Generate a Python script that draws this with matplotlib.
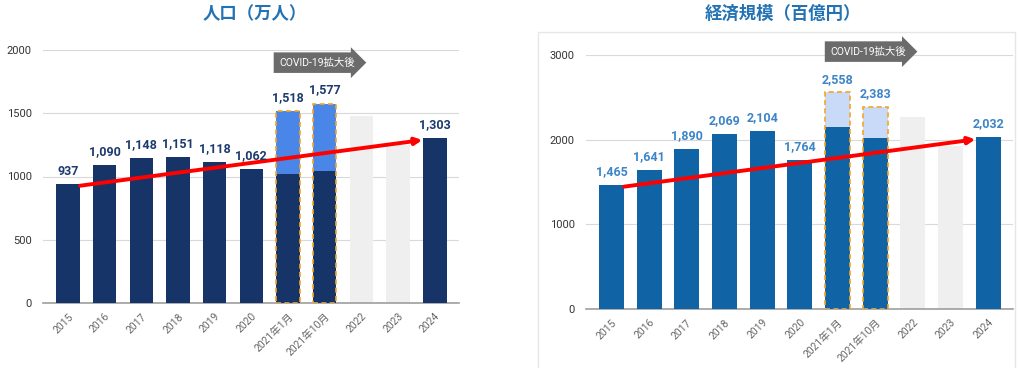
"""人口と経済規模の推移グラフ"""
import matplotlib
matplotlib.use('Agg')
import matplotlib.pyplot as plt
from matplotlib.patches import Rectangle
import numpy as np

plt.rcParams['font.family'] = ['Roboto', 'Noto Sans CJK JP', 'DejaVu Sans']

# ---- データ ----
categories = ['2015', '2016', '2017', '2018', '2019', '2020',
              '2021年1月', '2021年10月', '2022', '2023', '2024']

pop_total = [937, 1090, 1148, 1151, 1118, 1062, 1518, 1577, 0, 0, 1303]
pop_base = [937, 1090, 1148, 1151, 1118, 1062, 1020, 1040, 0, 0, 1303]
pop_ghost = [0, 0, 0, 0, 0, 0, 0, 0, 1478, 1250, 0]
pop_trend = [927, 1288]

eco_total = [1465, 1641, 1890, 2069, 2104, 1764, 2558, 2383, 0, 0, 2032]
eco_base = [1465, 1641, 1890, 2069, 2104, 1764, 2150, 2023, 0, 0, 2032]
eco_ghost = [0, 0, 0, 0, 0, 0, 0, 0, 2272, 1930, 0]
eco_trend = [1445, 2004]

covid_idx = [6, 7]

fig = plt.figure(figsize=(10.24, 3.68), dpi=100)

# 右側グラフの枠
fig.patches.append(Rectangle((538 / 1024, -0.05), 477 / 1024, 1 - 32 / 368 + 0.05,
                             transform=fig.transFigure, fill=False,
                             ec='#e6e6e6', lw=1.0))


def draw(ax, total, base, ghost, trend, ymax, step, dark, light, lab_color,
         width, lab_off, covid_y, covid_x):
    x = np.arange(len(categories))
    ax.bar(x, ghost, width, color='#efefef', zorder=2)
    ax.bar(x, total, width, color=light, zorder=2)
    ax.bar(x, base, width, color=dark, zorder=3)
    ax.bar([x[i] for i in covid_idx], [total[i] for i in covid_idx], width,
           fill=False, ec='#f5a623', ls=(0, (3, 2)), lw=1.2, zorder=4)

    for i, v in enumerate(total):
        if v > 0:
            ax.text(i, v + lab_off, f'{v:,}', ha='center', va='bottom',
                    fontsize=9, fontweight='bold', color=lab_color, zorder=6)

    ax.annotate('', xy=(9.66, trend[1]), xytext=(0.33, trend[0]),
                arrowprops=dict(arrowstyle='-|>', color='#ff0000', lw=2.8,
                                mutation_scale=10, shrinkA=0, shrinkB=0),
                zorder=5)

    ax.text(covid_x, covid_y, 'COVID-19拡大後', fontsize=7.5, color='white',
            ha='left', va='center', zorder=7, clip_on=False,
            bbox=dict(boxstyle='rarrow,pad=0.5', fc='#6b6b6b', ec='none'))

    ax.set_xlim(-0.68, 10.66)
    ax.set_ylim(0, ymax)
    ax.set_yticks(np.arange(0, ymax + 1, step))
    ax.set_xticks(x)
    ax.set_xticklabels(categories, rotation=45, ha='right',
                       rotation_mode='anchor', fontsize=7.5, color='#666666')
    ax.tick_params(axis='y', labelsize=8, colors='#333333', length=0, pad=8)
    ax.tick_params(axis='x', length=0, pad=6)
    ax.grid(True, axis='y', color='#d9d9d9', lw=0.8, zorder=0)
    ax.set_axisbelow(True)
    for s in ['left', 'right', 'top']:
        ax.spines[s].set_visible(False)
    ax.spines['bottom'].set_color('#9e9e9e')
    ax.spines['bottom'].set_linewidth(1.2)


# --- 左：人口 ---
ax1 = fig.add_axes([43 / 1024, 1 - 303 / 368, 416 / 1024, 253 / 368])
draw(ax1, pop_total, pop_base, pop_ghost, pop_trend, 2000, 500,
     '#163468', '#4a86e8', '#1c3a6e', 0.64, 55, 1900, 5.75)
fig.text(255 / 1024, 1 - 14 / 368, '人口（万人）', ha='center', va='center',
         fontsize=12.5, fontweight='bold', color='#2272b4',
         family=['Noto Sans CJK JP'])

# --- 右：経済規模 ---
ax2 = fig.add_axes([586 / 1024, 1 - 309 / 368, 427 / 1024, 254 / 368])
draw(ax2, eco_total, eco_base, eco_ghost, eco_trend, 3000, 1000,
     '#1063a5', '#c9daf8', '#3d85c6', 0.66, 80, 3040, 5.8)
fig.text(783 / 1024, 1 - 14 / 368, '経済規模（百億円）', ha='center', va='center',
         fontsize=12.5, fontweight='bold', color='#2272b4',
         family=['Noto Sans CJK JP'])

fig.savefig('out.png', dpi=100)
